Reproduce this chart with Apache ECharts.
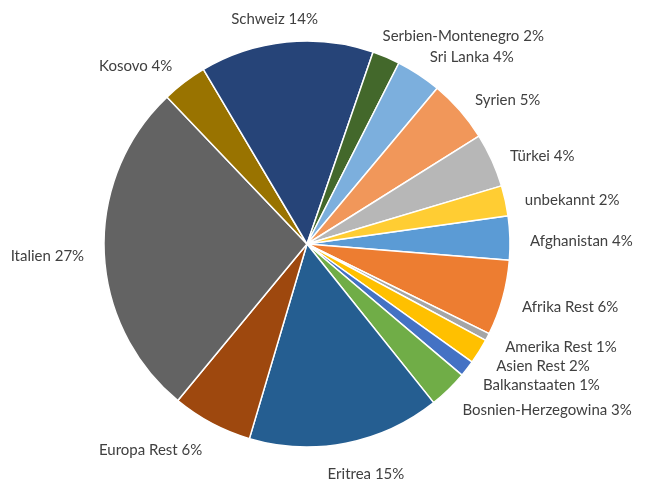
<!DOCTYPE html>
<html>
<head>
<meta charset="utf-8">
<script src="https://cdn.jsdelivr.net/npm/echarts@6/dist/echarts.min.js"></script>
<style>
html,body{margin:0;padding:0;background:#fff;}
#chart{width:653px;height:481px;}
</style>
</head>
<body>
<div id="chart"></div>
<script>
const categories = ['Afghanistan','Afrika Rest','Amerika Rest','Asien Rest','Balkanstaaten','Bosnien-Herzegowina','Eritrea','Europa Rest','Italien','Kosovo','Schweiz','Serbien-Montenegro','Sri Lanka','Syrien','Türkei','unbekannt'];
const shares = [3.5, 6.0, 0.6, 2.0, 1.3, 3.1, 15.3, 6.4, 26.9, 3.6, 13.8, 2.2, 3.6, 5.0, 4.3, 2.4];
const colors = ['#5B9BD5','#ED7D31','#A5A5A5','#FFC000','#4472C4','#70AD47','#255E91','#9E480E','#636363','#997300','#264478','#43682B','#7CAFDD','#F1975A','#B7B7B7','#FFCD33'];

const CX = 307, CY = 244, R = 203, START = 8, GAP = 20, DY = 4, SPACING = 19;
const total = shares.reduce((a, b) => a + b, 0);
const mids = [];
let cum = 0;
shares.forEach(v => { mids.push(START - (cum + v / 2) / total * 360); cum += v; });
const clamp = v => Math.max(-1, Math.min(1, v));

let cache = null;
function computeLayout(h) {
  const pos = mids.map(m => {
    const a = m * Math.PI / 180;
    const ux = Math.cos(a), uy = Math.sin(a);
    const ax = CX + (R + GAP) * ux, ay = CY - (R + GAP) * uy;
    const sx = clamp(ux * 2.2);
    const sy = Math.sign(uy) * Math.max(0, (Math.abs(uy) - 0.6) / 0.4);
    return {ux, ax, sx, y: ay - sy * h / 2 + DY};
  });
  // push overlapping labels upward, per side
  [true, false].forEach(right => {
    const idx = pos.map((p, i) => i).filter(i => (pos[i].ux >= 0) === right)
      .sort((a, b) => pos[b].y - pos[a].y);
    for (let k = 1; k < idx.length; k++) {
      const below = pos[idx[k - 1]], cur = pos[idx[k]];
      if (below.y - cur.y < SPACING) cur.y = below.y - SPACING;
    }
  });
  return pos;
}

const chart = echarts.init(document.getElementById('chart'), null, {renderer: 'canvas'});
chart.setOption({
  animation: false,
  backgroundColor: '#fff',
  series: [{
    type: 'pie',
    center: [CX, CY],
    radius: [0, R],
    startAngle: START,
    clockwise: true,
    avoidLabelOverlap: false,
    data: categories.map((c, i) => ({name: c, value: shares[i], itemStyle: {color: colors[i]}})),
    itemStyle: {borderColor: '#fff', borderWidth: 1.5},
    label: {
      show: true,
      position: 'outside',
      formatter: p => p.name + ' ' + Math.round(p.value) + '%',
      fontFamily: 'Lato',
      fontSize: 15,
      color: '#404040'
    },
    labelLine: {show: false},
    emphasis: {disabled: true},
    labelLayout: function (params) {
      const w = params.labelRect.width, h = params.labelRect.height;
      if (!cache) cache = computeLayout(h);
      const p = cache[params.dataIndex];
      return {x: p.ax + p.sx * w / 2, y: p.y, align: 'center', verticalAlign: 'middle'};
    }
  }]
});
</script>
</body>
</html>
